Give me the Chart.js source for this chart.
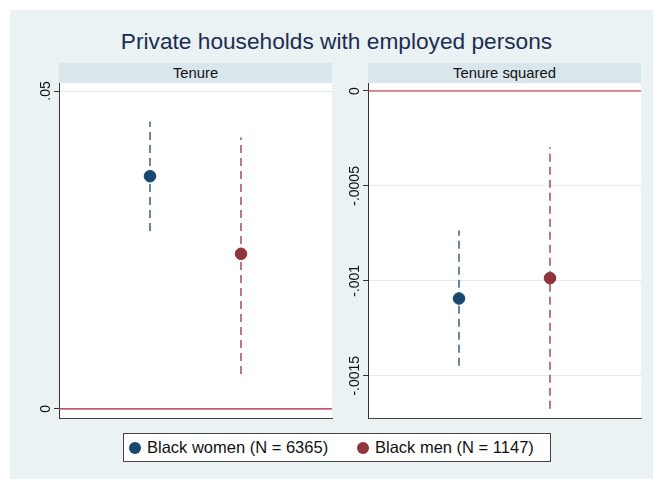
<!DOCTYPE html>
<html>
<head>
<meta charset="utf-8">
<script src="https://cdn.jsdelivr.net/npm/chart.js@4.4.1/dist/chart.umd.min.js"></script>
<style>
  html, body { margin: 0; padding: 0; background: #ffffff; }
  body { width: 653px; height: 479px; position: relative; overflow: hidden; font-family: "Liberation Sans", Arial, sans-serif; }
  #frame { position: absolute; left: 10px; top: 10px; width: 643px; height: 469px; background: #eaf2f3; }
  #title { position: absolute; left: 10px; top: 28px; width: 653px; text-align: center; font-size: 22.7px; color: #1c2d52; line-height: 26px; }
  .strip { position: absolute; top: 63px; height: 20px; width: 273px; background: #d9e6eb; text-align: center; font-size: 14.8px; line-height: 20px; color: #111; }
  .panel { position: absolute; top: 73px; width: 323px; height: 346px; }
  .panel canvas { display: block; }
  #legend { position: absolute; left: 123px; top: 433px; width: 426px; height: 27px; background: #fff; border: 1px solid #444; font-size: 16.5px; line-height: 27px; color: #111; white-space: nowrap; }
  .item { position: absolute; top: 0; }
  .dot { position: absolute; top: 8px; width: 12px; height: 12px; border-radius: 50%; }
  .lab { position: absolute; top: 0; }
</style>
</head>
<body>
<div id="frame"></div>
<div id="title">Private households with employed persons</div>
<div class="strip" id="strip0" style="left:59px"></div>
<div class="strip" id="strip1" style="left:368px"></div>
<div class="panel" style="left:10px"><canvas id="tenureChart" width="323" height="346"></canvas></div>
<div class="panel" style="left:319px"><canvas id="tenureSqChart" width="323" height="346"></canvas></div>
<div id="legend"></div>

<script>
// groups and panels
const groups = ['Black women (N = 6365)', 'Black men (N = 1147)'];
const groupColors = ['#1a476f', '#90353b'];
const panels = ['Tenure', 'Tenure squared'];

// coefficient estimates with 95% intervals, per group
const tenureEst = [0.0366, 0.0244];
const tenureLo = [0.0280, 0.0055];
const tenureHi = [0.0452, 0.0427];

const tenureSqEst = [-0.001093, -0.000986];
const tenureSqLo = [-0.001447, -0.001674];
const tenureSqHi = [-0.000735, -0.000296];

// axis ticks
const tenureTicks = [0, 0.05];
const tenureTickLabels = ['0', '.05'];
const tenureSqTicks = [0, -0.0005, -0.001, -0.0015];
const tenureSqTickLabels = ['0', '-.0005', '-.001', '-.0015'];

const refColor = '#be1e3c';

document.getElementById('strip0').textContent = panels[0];
document.getElementById('strip1').textContent = panels[1];

// legend
const legend = document.getElementById('legend');
const itemLeft = [5, 233];
groups.forEach((g, i) => {
    const item = document.createElement('div');
    item.className = 'item';
    item.style.left = itemLeft[i] + 'px';
    const dot = document.createElement('div');
    dot.className = 'dot';
    dot.style.background = groupColors[i];
    const lab = document.createElement('div');
    lab.className = 'lab';
    lab.style.left = '18px';
    lab.textContent = g;
    item.appendChild(dot);
    item.appendChild(lab);
    legend.appendChild(item);
});

// white plot region behind the marks
const plotBackground = {
    id: 'plotBackground',
    beforeDraw(chart) {
        const { ctx, chartArea: a } = chart;
        ctx.save();
        ctx.fillStyle = '#ffffff';
        ctx.fillRect(a.left, a.top, a.right - a.left, a.bottom - a.top);
        ctx.restore();
    }
};

// y tick labels written vertically, reading upward
const verticalTickLabels = {
    id: 'verticalTickLabels',
    afterDraw(chart, args, opts) {
        const { ctx } = chart;
        const y = chart.scales.y;
        ctx.save();
        ctx.font = '14px "Liberation Sans", Arial, sans-serif';
        ctx.fillStyle = '#111';
        ctx.textAlign = 'center';
        ctx.textBaseline = 'middle';
        opts.values.forEach((v, i) => {
            const py = y.getPixelForValue(v);
            ctx.save();
            ctx.translate(y.right - 13, py);
            ctx.rotate(-Math.PI / 2);
            ctx.fillText(opts.labels[i], 0, 0);
            ctx.restore();
        });
        ctx.restore();
    }
};

function buildDatasets(est, lo, hi) {
    const ds = [];
    ds.push({
        type: 'line',
        data: [{ x: 0, y: 0 }, { x: 3, y: 0 }],
        borderColor: refColor,
        borderWidth: 1.2,
        pointRadius: 0,
        order: 3
    });
    groups.forEach((g, i) => {
        ds.push({
            type: 'line',
            data: [{ x: i + 1, y: lo[i] }, { x: i + 1, y: hi[i] }],
            borderColor: groupColors[i],
            borderWidth: 1.3,
            borderDash: [8, 5],
            pointRadius: 0,
            order: 2
        });
    });
    groups.forEach((g, i) => {
        ds.push({
            type: 'scatter',
            label: g,
            data: [{ x: i + 1, y: est[i] }],
            backgroundColor: groupColors[i],
            borderColor: groupColors[i],
            pointRadius: 5.8,
            order: 1
        });
    });
    return ds;
}

function renderPanel(id, est, lo, hi, ticks, tickLabels, yMin, yMax) {
    const canvas = document.getElementById(id);
    return new Chart(canvas, {
        type: 'scatter',
        data: { datasets: buildDatasets(est, lo, hi) },
        options: {
            responsive: false,
            animation: false,
            events: [],
            layout: { autoPadding: false, padding: { top: 10, right: 1, bottom: 0, left: 0 } },
            plugins: {
                legend: { display: false },
                tooltip: { enabled: false },
                verticalTickLabels: { values: ticks, labels: tickLabels }
            },
            scales: {
                x: {
                    type: 'linear',
                    min: 0,
                    max: 3,
                    ticks: { display: false },
                    grid: { display: false },
                    border: { display: true, color: '#444', width: 1 },
                    afterFit(scale) { scale.height = 1; }
                },
                y: {
                    type: 'linear',
                    min: yMin,
                    max: yMax,
                    afterBuildTicks(scale) {
                        scale.ticks = ticks.map(v => ({ value: v }));
                    },
                    ticks: { display: false },
                    grid: {
                        color: '#e3ecef',
                        lineWidth: 1,
                        drawTicks: true,
                        tickLength: 5,
                        tickColor: '#333'
                    },
                    border: { display: true, color: '#333', width: 1 },
                    afterFit(scale) { scale.width = 49; }
                }
            }
        },
        plugins: [plotBackground, verticalTickLabels]
    });
}

renderPanel('tenureChart', tenureEst, tenureLo, tenureHi, tenureTicks, tenureTickLabels, -0.00142, 0.05126);
renderPanel('tenureSqChart', tenureSqEst, tenureSqLo, tenureSqHi, tenureSqTicks, tenureSqTickLabels, -0.0017226, 0.0000421);
</script>
</body>
</html>
